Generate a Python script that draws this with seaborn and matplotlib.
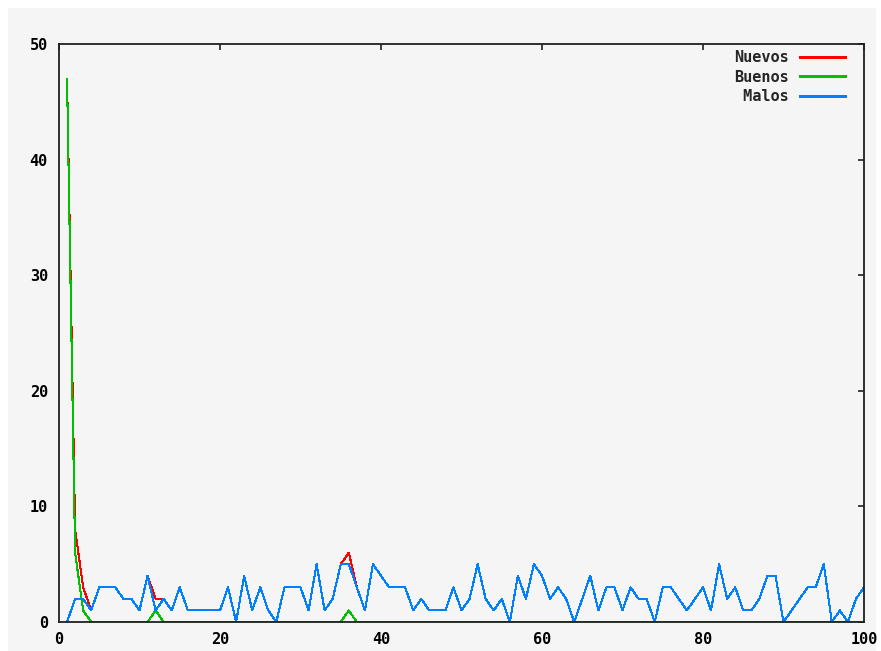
import matplotlib
matplotlib.use("Agg")
import matplotlib.pyplot as plt
import seaborn as sns
import pandas as pd
from matplotlib.patches import Rectangle

# ---- data ----
dias = list(range(1, 101))
malos = [0, 2, 2, 1, 3, 3, 3, 2, 2, 1,
         4, 1, 2, 1, 3, 1, 1, 1, 1, 1,
         3, 0, 4, 1, 3, 1, 0, 3, 3, 3,
         1, 5, 1, 2, 5, 5, 3, 1, 5, 4,
         3, 3, 3, 1, 2, 1, 1, 1, 3, 1,
         2, 5, 2, 1, 2, 0, 4, 2, 5, 4,
         2, 3, 2, 0, 2, 4, 1, 3, 3, 1,
         3, 2, 2, 0, 3, 3, 2, 1, 2, 3,
         1, 5, 2, 3, 1, 1, 2, 4, 4, 0,
         1, 2, 3, 3, 5, 0, 1, 0, 2, 3]
buenos = [47, 6, 1, 0, 0, 0, 0, 0, 0, 0,
          0, 1, 0, 0, 0, 0, 0, 0, 0, 0,
          0, 0, 0, 0, 0, 0, 0, 0, 0, 0,
          0, 0, 0, 0, 0, 1, 0, 0, 0, 0,
          0, 0, 0, 0, 0, 0, 0, 0, 0, 0,
          0, 0, 0, 0, 0, 0, 0, 0, 0, 0,
          0, 0, 0, 0, 0, 0, 0, 0, 0, 0,
          0, 0, 0, 0, 0, 0, 0, 0, 0, 0,
          0, 0, 0, 0, 0, 0, 0, 0, 0, 0,
          0, 0, 0, 0, 0, 0, 0, 0, 0, 0]
nuevos = [47, 8, 3, 1, 3, 3, 3, 2, 2, 1,
          4, 2, 2, 1, 3, 1, 1, 1, 1, 1,
          3, 0, 4, 1, 3, 1, 0, 3, 3, 3,
          1, 5, 1, 2, 5, 6, 3, 1, 5, 4,
          3, 3, 3, 1, 2, 1, 1, 1, 3, 1,
          2, 5, 2, 1, 2, 0, 4, 2, 5, 4,
          2, 3, 2, 0, 2, 4, 1, 3, 3, 1,
          3, 2, 2, 0, 3, 3, 2, 1, 2, 3,
          1, 5, 2, 3, 1, 1, 2, 4, 4, 0,
          1, 2, 3, 3, 5, 0, 1, 0, 2, 3]
series_names = ["Nuevos", "Buenos", "Malos"]
series_colors = ["#ff0000", "#00c000", "#0080ff"]
x_ticks = [0, 20, 40, 60, 80, 100]
y_ticks = [0, 10, 20, 30, 40, 50]

df = pd.concat([
    pd.DataFrame({"x": dias, "y": vals, "serie": name})
    for name, vals in zip(series_names, [nuevos, buenos, malos])
], ignore_index=True)

# ---- style ----
sns.set_theme(style="white")
plt.rcParams["font.family"] = ["DejaVu Sans Mono", "DejaVu Sans"]
plt.rcParams["font.weight"] = "bold"

FS = 11
LW = 0.75
W, H = 881, 651
fig = plt.figure(figsize=(W / 100, H / 100), dpi=100, facecolor="white")
bg = "#f5f5f5"
fig.patches.append(Rectangle((8 / W, 0), (876 - 8) / W, (H - 8) / H,
                             transform=fig.transFigure, facecolor=bg,
                             edgecolor="none", zorder=-10))

ax = fig.add_axes([59 / W, 1 - 622 / H, (864 - 59) / W, (622 - 44) / H])
ax.set_facecolor(bg)

sns.lineplot(data=df, x="x", y="y", hue="serie", hue_order=series_names,
             palette=series_colors, ax=ax, linewidth=LW, legend=True,
             estimator=None, sort=False)
for ln in ax.get_lines():
    ln.set_antialiased(False)

ax.set_xlim(0, 100)
ax.set_ylim(0, 50)
ax.set_xticks(x_ticks)
ax.set_yticks(y_ticks)
ax.set_xlabel("")
ax.set_ylabel("")
ax.tick_params(axis="both", direction="in", length=4.5, width=1.2,
               color="#202020", top=True, right=True, labelsize=FS,
               labelcolor="black")
ax.tick_params(axis="y", pad=8)
ax.tick_params(axis="x", pad=7)
for lab in ax.get_xticklabels() + ax.get_yticklabels():
    lab.set_fontweight("bold")
for sp in ax.spines.values():
    sp.set_visible(True)
    sp.set_color("#202020")
    sp.set_linewidth(1.3)

handles, labels = ax.get_legend_handles_labels()
width = max(len(l) for l in labels)
labels = [l.rjust(width) for l in labels]
leg = ax.legend(handles, labels, loc="upper right",
                bbox_to_anchor=((846 - 59) / 805, (622 - 50) / 578),
                frameon=False, markerfirst=False, borderpad=0,
                borderaxespad=0, handlelength=3.1, handletextpad=0.65,
                labelspacing=0.3, prop={"family": "DejaVu Sans Mono",
                                        "weight": "bold", "size": FS})
for ln in leg.get_lines():
    ln.set_linewidth(LW)
    ln.set_antialiased(False)

fig.savefig("out.png", dpi=100, facecolor=fig.get_facecolor())
